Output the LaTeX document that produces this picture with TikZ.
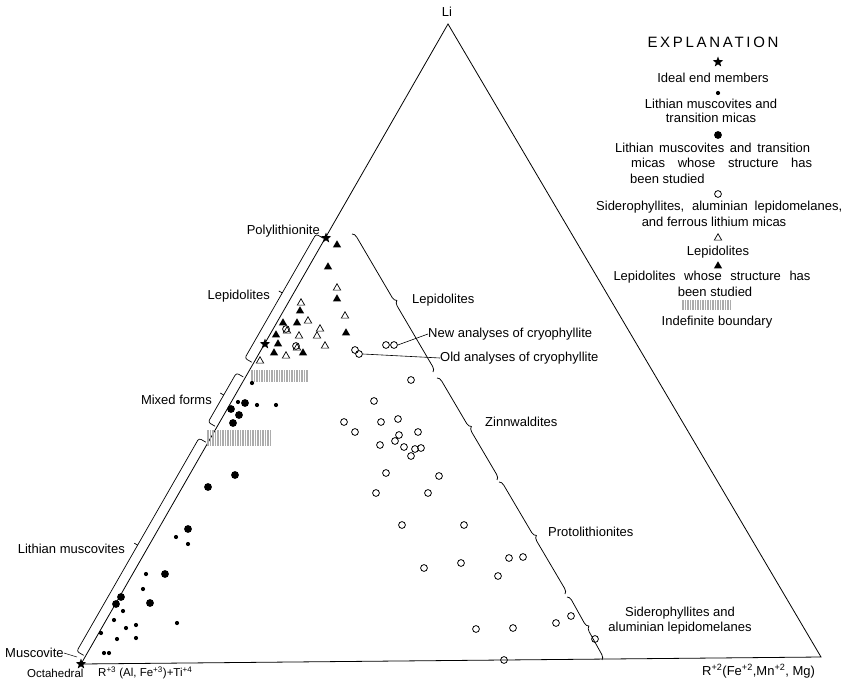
\documentclass[tikz,border=0pt]{standalone}
\usepackage{fontspec}
\setmainfont{Liberation Sans}
\newfontfamily\spacedfont[LetterSpace=18]{Liberation Sans}
\usetikzlibrary{shapes.geometric,decorations.pathreplacing,calc}

\newcommand{\lbrk}[4]{%
  \draw[brk] ($(A)!#1!(C)!2pt!90:(C)$) -- ($(A)!#1!(C)!10pt!90:(C)$) -- ($(A)!#2!(C)!10pt!90:(C)$) -- ($(A)!#2!(C)!2pt!90:(C)$);
  \draw[brk] ($(A)!#3!(C)!10pt!90:(C)$) -- ($(A)!#3!(C)!14pt!90:(C)$) coordinate (#4);}

\begin{document}
\begin{tikzpicture}[x=1pt,y=-1pt,
  lab/.style={font=\fontsize{13}{15}\selectfont, inner sep=0pt},
  slab/.style={font=\fontsize{11.5}{13}\selectfont, inner sep=0pt},
  sdot/.style={circle,fill=black,inner sep=0pt,minimum size=4.2pt},
  bdot/.style={circle,fill=black,inner sep=0pt,minimum size=7.8pt},
  ocirc/.style={circle,draw=black,line width=0.8pt,inner sep=0pt,minimum size=6.8pt},
  otri/.style={regular polygon,regular polygon sides=3,draw=black,line width=0.7pt,inner sep=0pt,minimum size=8.5pt},
  ftri/.style={regular polygon,regular polygon sides=3,fill=black,inner sep=0pt,minimum size=9.5pt},
  starm/.style={star,star points=5,star point ratio=2.4,fill=black,inner sep=0pt,minimum size=11pt},
  brk/.style={line width=0.7pt,rounded corners=2.5pt},
  rbrace/.style={decorate,decoration={brace,amplitude=5pt,aspect=0.5},line width=0.75pt},
  hatch/.style={gray!65,line width=1.2pt},
  edge/.style={line width=0.8pt}
]
\fill[white] (0,0) rectangle (843,679);
\useasboundingbox (0,0) rectangle (843,679);

% triangle
\coordinate (A) at (81,664);
\coordinate (B) at (821,657);
\coordinate (C) at (448,24);
\draw[edge] (A) -- (B) -- (C) -- cycle;
\node[lab] (li) at (447,12) {Li};

% left brackets
\lbrk{0.012}{0.345}{0.178}{tLm}
\lbrk{0.370}{0.447}{0.4125}{tMf}
\lbrk{0.470}{0.664}{0.572}{tLp}

% right braces
\draw[rbrace] (352,234) -- (433,372);
\draw[rbrace] (437,378) -- (497,480);
\draw[rbrace] (499,482) -- (565,594);
\draw[rbrace] (567,597) -- (602,660);

% hatched indefinite boundaries
\foreach \i in {0,...,22} \draw[hatch] ({252+2.5*\i},370) -- ++(0,12);
\foreach \i in {0,...,25} \draw[hatch] ({208+2.5*\i},430) -- ++(0,16);

% stars
\node[starm] (poly) at (326,238) {};
\node[starm] (st2) at (265,344) {};
\node[starm] (musc) at (81,664) {};

% filled triangles
\foreach \x/\y [count=\i] in {337/245,328/267,337/299,300/311,283/323,297/323,346/333,276/335,278/344,274/353,303/353}
  \node[ftri] (ft\i) at (\x,\y) {};
% open triangles
\foreach \x/\y [count=\i] in {337/288,301/303,308/321,345/316,287/331,299/336,317/336,320/329,325/346,286/356,297/348,260/361}
  \node[otri] (ot\i) at (\x,\y) {};

% small dots
\foreach \x/\y [count=\i] in {252/383,238/402,257/405,276/405,176/537,188/544,146/574,143/589,123/611,114/620,126/628,136/625,177/623,101/633,117/639,136/638,104/653,109/653}
  \node[sdot] (sd\i) at (\x,\y) {};
% big dots
\foreach \x/\y [count=\i] in {245/403,231/409,239/415,233/423,235/475,208/487,188/529,165/574,121/597,116/604,150/603}
  \node[bdot] (bd\i) at (\x,\y) {};

% open circles
\node[ocirc] (nc1) at (386,345) {};
\node[ocirc] (nc2) at (394,345) {};
\node[ocirc] (oc1) at (355,350) {};
\node[ocirc] (oc2) at (359,354) {};
\foreach \x/\y [count=\i] in {286/329,296/346,411/380,374/401,344/422,355/432,381/422,398/419,418/432,399/435,395/441,380/445,404/447,415/449,421/448,411/456,386/473,439/476,376/493,428/493,402/525,464/525,424/568,461/563,509/558,523/557,498/576,476/629,513/628,556/623,571/616,595/639,504/660}
  \node[ocirc] (c\i) at (\x,\y) {};

% plot labels
\node[lab,anchor=east] (lpoly) at (320,231) {Polylithionite};
\node[lab,anchor=east] (llep) at (270,296) {Lepidolites};
\node[lab,anchor=east] (lmix) at (212,400) {Mixed forms};
\node[lab,anchor=east] (llm) at (125,549) {Lithian muscovites};
\node[lab,anchor=west] (lmusc) at (5,653) {Muscovite};
\coordinate (mtip) at (77,657);
\draw[line width=0.5pt] (lmusc.east) -- (mtip);
\node[slab,anchor=west] (loct) at (27,673) {Octahedral};
\node[slab,anchor=west] (lr3) at (98,673) {R\textsuperscript{+3} (Al, Fe\textsuperscript{+3})+Ti\textsuperscript{+4}};
\node[lab,anchor=west] (lr2) at (702,671) {R\textsuperscript{+2}(Fe\textsuperscript{+2},Mn\textsuperscript{+2}, Mg)};

\node[lab,anchor=west] (rlep) at (412,300) {Lepidolites};
\node[lab,anchor=west] (newtxt) at (428,334) {New analyses of cryophyllite};
\node[lab,anchor=west] (oldtxt) at (440,358) {Old analyses of cryophyllite};
\draw[line width=0.6pt] (nc2.east) -- (newtxt.west);
\draw[line width=0.6pt] (oc2.east) -- (oldtxt.west);
\node[lab,anchor=west] (zinn) at (485,422) {Zinnwaldites};
\node[lab,anchor=west] (proto) at (548,532) {Protolithionites};
\node[lab,align=center] (sider) at (680,621) {Siderophyllites and\\aluminian lepidomelanes};

% explanation
\node[inner sep=0pt,font=\fontsize{15}{17}\selectfont\spacedfont] (expl) at (713,42) {EXPLANATION};
\node[starm] (kstar) at (718,62) {};
\node[lab] (k1) at (713,78) {Ideal end members};
\node[sdot] (kdot) at (718,93) {};
\node[lab] (k2a) at (711,104) {Lithian muscovites and};
\node[lab] (k2b) at (711,118) {transition micas};
\node[bdot] (kbdot) at (718,135) {};
\node[lab,anchor=west] (k3a) at (615,148) {\makebox[195pt][s]{Lithian muscovites and transition}};
\node[lab,anchor=west] (k3b) at (631,163) {\makebox[181pt][s]{micas whose structure has}};
\node[lab,anchor=west] (k3c) at (630,179) {been studied};
\node[ocirc] (kcirc) at (718,194) {};
\node[lab,anchor=west] (k4a) at (596,207) {\makebox[246pt][s]{Siderophyllites, aluminian lepidomelanes,}};
\node[lab] (k4b) at (714,222) {and ferrous lithium micas};
\node[otri] (kotri) at (718,238) {};
\node[lab] (k5) at (718,252) {Lepidolites};
\node[ftri] (kftri) at (718,266) {};
\node[lab] (k6a) at (712,277) {\makebox[197pt][s]{Lepidolites whose structure has}};
\node[lab] (k6b) at (715,292) {been studied};
\foreach \i in {0,...,19} \draw[hatch] ({683+2.5*\i},300) -- ++(0,10);
\node[lab] (k7) at (717,322) {Indefinite boundary};
\end{tikzpicture}
\end{document}
